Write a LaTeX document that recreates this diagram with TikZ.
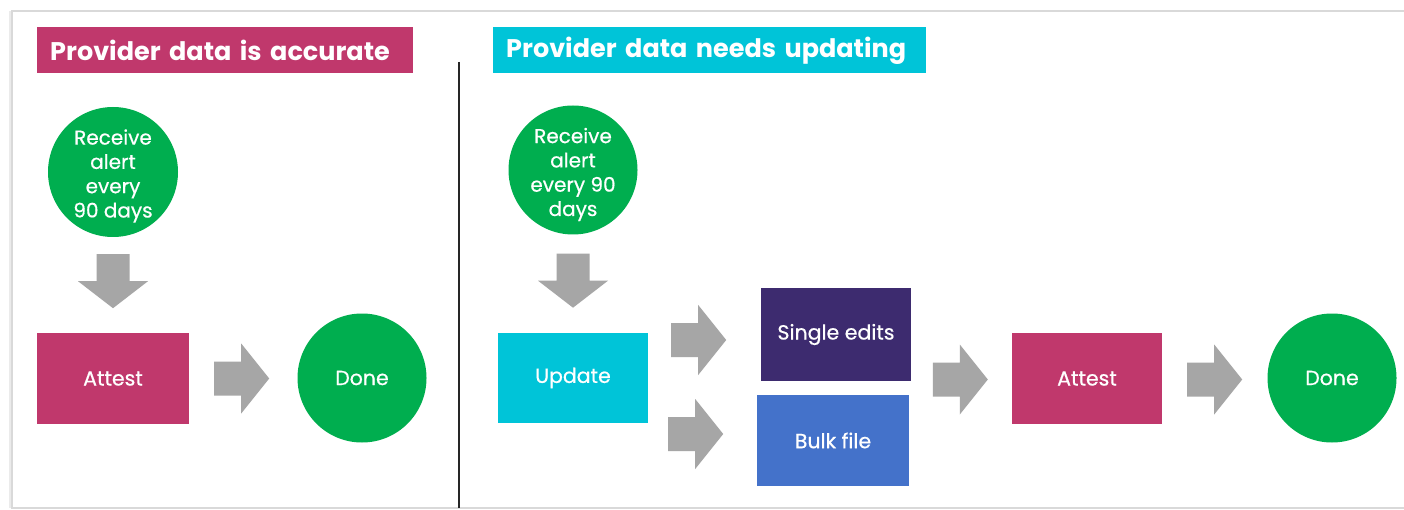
\documentclass[tikz,border=0pt]{standalone}
\usepackage{fontspec}
\setmainfont{Poppins}
\newfontfamily\nodefont[FakeBold=0.6]{Poppins}
\usetikzlibrary{calc}
\definecolor{magentaC}{HTML}{C0386C}
\definecolor{cyanC}{HTML}{00C4D8}
\definecolor{greenC}{HTML}{00AE4F}
\definecolor{purpleC}{HTML}{3D2B6F}
\definecolor{blueC}{HTML}{4472CA}
\definecolor{arrowgray}{HTML}{A6A6A6}
\definecolor{framegray}{HTML}{D9D9D9}
\begin{document}
\begin{tikzpicture}[x=1pt,y=-1pt,
  titlebox/.style={anchor=west,inner xsep=13pt,inner ysep=0pt,minimum height=46pt,text=white,font=\bfseries\fontsize{25.5}{30}\selectfont},
  procbox/.style={rectangle,inner sep=0pt,text=white,font=\nodefont\fontsize{20.5}{24}\selectfont},
  roundnode/.style={circle,fill=greenC,inner sep=0pt,text=white,align=center,font=\nodefont\fontsize{20.5}{24}\selectfont},
  circtext/.style={inner sep=0pt,text=white,align=center,font=\nodefont\fontsize{20}{24.3}\selectfont},
  rarrow/.pic={\fill[arrowgray] (0,-17) -- (27,-17) -- (27,-35) -- (55,0) -- (27,35) -- (27,17) -- (0,17) -- cycle;},
  darrow/.pic={\fill[arrowgray] (-16.5,0) -- (16.5,0) -- (16.5,27) -- (35,27) -- (0,54) -- (-35,27) -- (-16.5,27) -- cycle;}
]
\useasboundingbox (0,0) rectangle (1404,510);
\fill[white] (0,0) rectangle (1404,510);
% frame
\fill[black!8] (9,11) rectangle (12,508);
\draw[framegray,line width=1.5pt] (1404,11) -- (12,11) -- (12,508) -- (1404,508);
% divider
\coordinate (divtop) at (459,62);
\coordinate (divbot) at (459,508);
\draw[black!85,line width=1.2pt] (divtop) -- (divbot);

% titles
\node[titlebox,fill=magentaC,text width=350pt] (t1) at (37,50) {Provider data is accurate};
\node[titlebox,fill=cyanC,text width=407pt] (t2) at (493,50.5) {Provider data needs updating};

% left section
\node[roundnode,minimum size=130pt] (alertA) at (113,172) {};
\node[circtext] (alertAtext) at ($(alertA)+(0,4)$) {Receive\\alert\\every\\90 days};
\node[procbox,fill=magentaC,minimum width=152pt,minimum height=91pt] (attestA) at (113,378.5) {Attest};
\node[roundnode,minimum size=129pt] (doneA) at (362,378) {Done};
\pic at ($(alertA.south)+(0,17)$) {darrow};
\pic at ($(attestA.east)+(25,0)$) {rarrow};

% right section
\node[roundnode,minimum size=129pt] (alertB) at (573,170) {};
\node[circtext] (alertBtext) at ($(alertB)+(0,4.5)$) {Receive\\alert\\every 90\\days};
\node[procbox,fill=cyanC,minimum width=150pt,minimum height=90pt] (update) at (573,378) {Update};
\node[procbox,fill=purpleC,minimum width=150pt,minimum height=93pt] (single) at (836,334.5) {Single edits};
\node[procbox,fill=blueC,minimum width=152pt,minimum height=91pt] (bulk) at (833,440.5) {Bulk file};
\node[procbox,fill=magentaC,minimum width=150pt,minimum height=91pt] (attestB) at (1087,378.5) {Attest};
\node[roundnode,minimum size=129pt] (doneB) at (1332,378) {Done};
\pic at ($(alertB.south)+(0,19)$) {darrow};
\pic at ($(update.east)+(23,-38)$) {rarrow};
\pic at ($(update.east)+(20,56)$) {rarrow};
\pic at ($(attestB.west)+(-79,1)$) {rarrow};
\pic at ($(attestB.east)+(25,1)$) {rarrow};
\end{tikzpicture}
\end{document}
